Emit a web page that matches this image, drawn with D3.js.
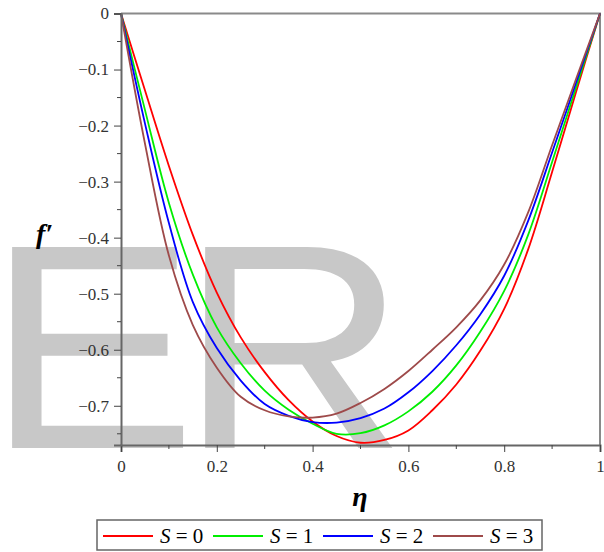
<!DOCTYPE html>
<head>
  <meta charset="utf-8">
  <script src="https://d3js.org/d3.v7.min.js"></script>
  <style>
    body { margin: 0; background: #fff; }
    svg text.serif, .tick text { font-family: "Liberation Serif", "DejaVu Serif", serif !important; }
    .tick text { font-size: 17px; fill: #333; }
  </style>
</head>
<body>
<div id="chart"></div>
<script>
var width = 604, height = 552;

// eta grid and f' values
var eta = [0, 0.05, 0.1, 0.15, 0.2, 0.25, 0.3, 0.35, 0.4, 0.45, 0.5,
           0.55, 0.6, 0.65, 0.7, 0.75, 0.8, 0.85, 0.9, 0.95, 1];
var s0 = [0, -0.137, -0.272, -0.395, -0.498, -0.578, -0.640, -0.690, -0.728, -0.754, -0.766,
          -0.761, -0.744, -0.708, -0.662, -0.602, -0.527, -0.421, -0.283, -0.140, 0];
var s1 = [0, -0.172, -0.338, -0.466, -0.560, -0.624, -0.673, -0.707, -0.732, -0.750, -0.749,
          -0.735, -0.710, -0.675, -0.628, -0.568, -0.495, -0.395, -0.265, -0.132, 0];
var s2 = [0, -0.196, -0.374, -0.515, -0.597, -0.655, -0.697, -0.718, -0.729, -0.730, -0.722,
          -0.705, -0.676, -0.638, -0.592, -0.537, -0.468, -0.370, -0.248, -0.124, 0];
var s3 = [0, -0.232, -0.432, -0.556, -0.632, -0.684, -0.708, -0.719, -0.721, -0.714, -0.695,
          -0.670, -0.638, -0.600, -0.560, -0.512, -0.448, -0.355, -0.235, -0.117, 0];
var names = ["S = 0", "S = 1", "S = 2", "S = 3"];
var colors = ["#ff0000", "#00ee00", "#0000ff", "#9e4a4a"];
var xTicks = [0, 0.2, 0.4, 0.6, 0.8, 1];
var yTicks = [0, -0.1, -0.2, -0.3, -0.4, -0.5, -0.6, -0.7];

var series = [s0, s1, s2, s3];

var svg = d3.select("#chart").append("svg")
  .attr("width", width)
  .attr("height", height);

// watermark
svg.append("text")
  .attr("transform", "translate(10,448) scale(1.08,1)")
  .attr("x", -22).attr("y", 0)
  .attr("font-family", "Liberation Sans, Arial, sans-serif")
  .attr("font-size", 292)
  .attr("letter-spacing", -16)
  .attr("fill", "#c8c8c8")
  .text("ER");

var x = d3.scaleLinear().domain([0, 1]).range([121, 600]);
var y = d3.scaleLinear().domain([-0.77, 0]).range([445, 13.5]);

// frame (top and right)
svg.append("path")
  .attr("d", "M" + x(0) + "," + y(0) + "H" + x(1) + "V" + y(-0.77))
  .attr("fill", "none").attr("stroke", "#8a8a8a").attr("stroke-width", 2);

var line = d3.line()
  .x(function(d, i) { return x(eta[i]); })
  .y(function(d) { return y(d); })
  .curve(d3.curveCatmullRom.alpha(0.5));

svg.append("g").selectAll("path")
  .data(series)
  .enter().append("path")
  .attr("d", line)
  .attr("fill", "none")
  .attr("stroke", function(d, i) { return colors[i]; })
  .attr("stroke-width", 1.8);

// axes
var xAxis = svg.append("g")
  .attr("transform", "translate(0," + y(-0.77) + ")")
  .call(d3.axisBottom(x).tickValues(xTicks).tickSize(7).tickPadding(8)
    .tickFormat(function(d) { return d === 0 || d === 1 ? d : d3.format(".1f")(d); }));
xAxis.append("g").selectAll("line")
  .data(d3.range(0.1, 1, 0.2))
  .enter().append("line")
  .attr("x1", function(d) { return x(d); }).attr("x2", function(d) { return x(d); })
  .attr("y1", 0).attr("y2", 4)
  .attr("stroke", "#444");

var yAxis = svg.append("g")
  .attr("transform", "translate(" + x(0) + ",0)")
  .call(d3.axisLeft(y).tickValues(yTicks).tickSize(7).tickPadding(5)
    .tickFormat(function(d) { return d === 0 ? "0" : "\u2212" + d3.format(".1f")(-d); }));
yAxis.append("g").selectAll("line")
  .data([-0.05, -0.15, -0.25, -0.35, -0.45, -0.55, -0.65, -0.75])
  .enter().append("line")
  .attr("x1", -4).attr("x2", 0)
  .attr("y1", function(d) { return y(d); }).attr("y2", function(d) { return y(d); })
  .attr("stroke", "#444");

svg.selectAll(".domain").attr("stroke", "#666").attr("stroke-width", 2);
svg.selectAll(".tick line").attr("stroke", "#444");
svg.selectAll("g[font-family]").attr("font-family", null);

// axis titles
svg.append("text")
  .attr("class", "serif")
  .attr("x", 360).attr("y", 506)
  .attr("text-anchor", "middle")
  .attr("font-style", "italic").attr("font-weight", "bold")
  .attr("font-size", 28)
  .text("\u03b7");

svg.append("text")
  .attr("class", "serif")
  .attr("x", 36).attr("y", 243)
  .attr("font-style", "italic").attr("font-weight", "bold")
  .attr("font-size", 28)
  .text("f\u2032");

// legend
var lg = svg.append("g");
lg.append("rect")
  .attr("x", 97).attr("y", 520).attr("width", 445).attr("height", 30)
  .attr("fill", "#fff").attr("stroke", "#666").attr("stroke-width", 1.5);
var lx = [103, 213, 323, 433];
names.forEach(function(n, i) {
  lg.append("line")
    .attr("x1", lx[i]).attr("x2", lx[i] + 50)
    .attr("y1", 536).attr("y2", 536)
    .attr("stroke", colors[i]).attr("stroke-width", 2);
  var t = lg.append("text")
    .attr("class", "serif")
    .attr("x", lx[i] + 57).attr("y", 543)
    .attr("font-size", 21);
  t.append("tspan").attr("font-style", "italic").text("S");
  t.append("tspan").text(n.slice(1));
});
</script>
</body>
</html>
